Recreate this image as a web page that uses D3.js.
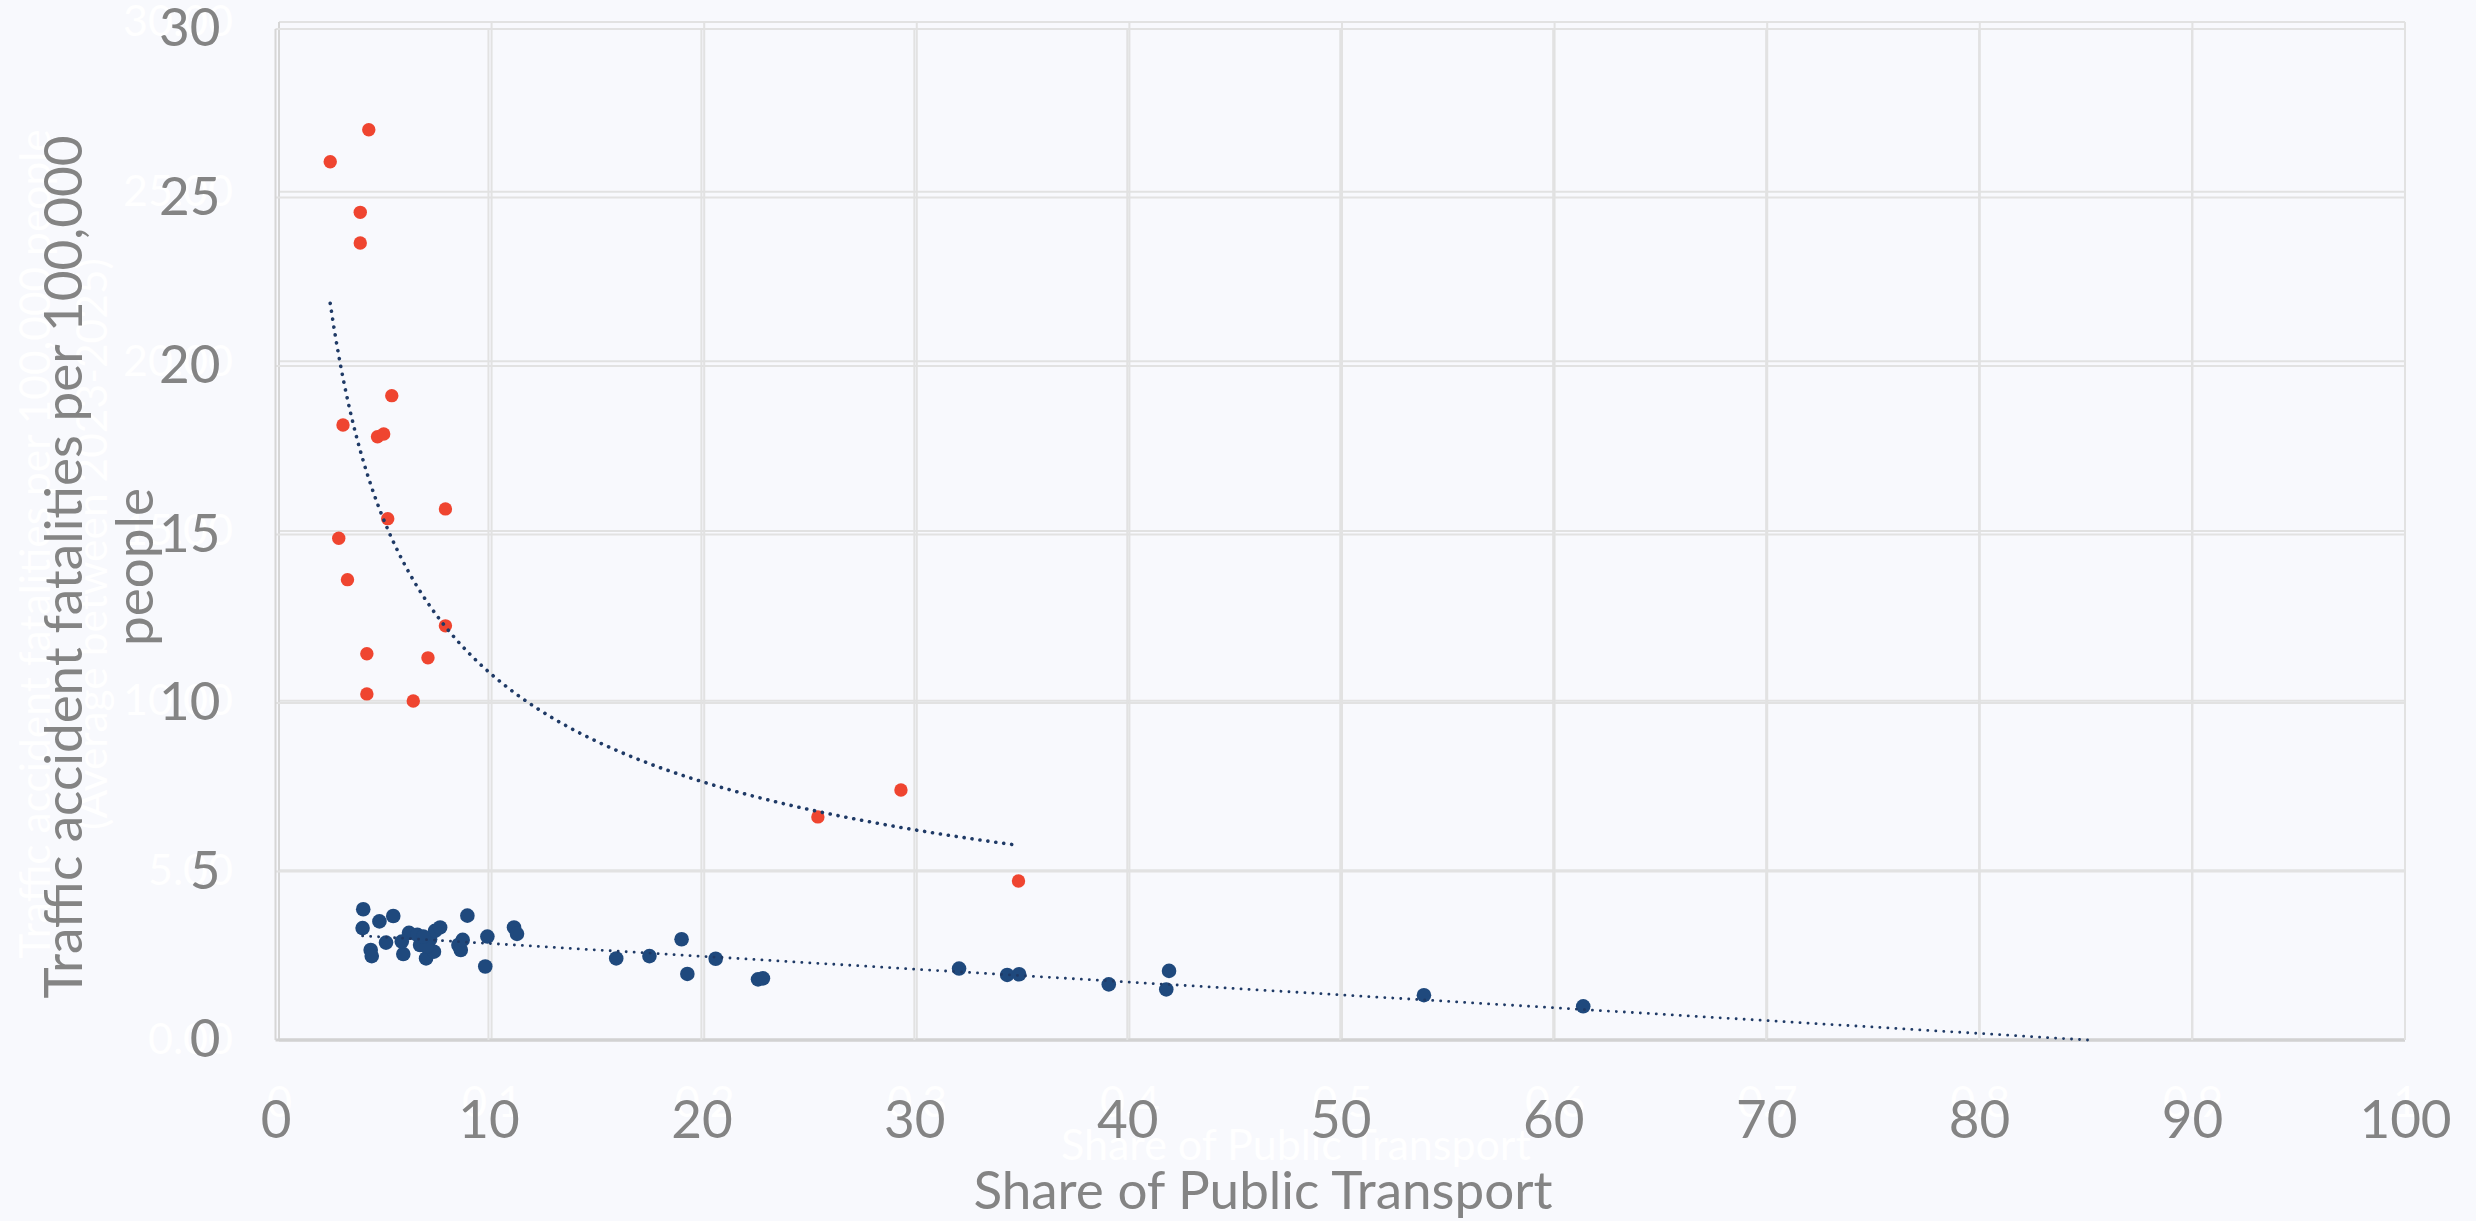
<!DOCTYPE html>
<html>
<head>
<meta charset="utf-8">
<script src="https://cdn.jsdelivr.net/npm/d3@7"></script>
<style>
  html, body { margin: 0; padding: 0; background: #f8f9fd; }
  #chart { width: 2476px; height: 1221px; }
</style>
</head>
<body>
<div id="chart"></div>
<script>
/* ================================================
   Share of public transport vs traffic fatalities
   ================================================ */

// red group (high fatality countries)
var redShare = [2.57, 4.38, 3.98, 3.98, 5.46, 3.17, 4.79, 5.08, 7.98, 5.27,
                2.97, 3.38, 7.98, 4.29, 7.16, 4.29, 6.47, 25.47, 29.37, 34.89];
var redFatal = [26.06, 27.01, 24.56, 23.65, 19.12, 18.25, 17.90, 17.98, 15.76, 15.47,
                14.89, 13.66, 12.29, 11.46, 11.34, 10.27, 10.06, 6.62, 7.42, 4.72];

// blue group (low fatality countries)
var blueShare = [4.12, 4.09, 4.88, 5.53, 4.47, 4.52, 5.19, 6.00, 6.27, 6.66,
                 5.93, 6.79, 7.07, 7.44, 7.26, 7.49, 7.73, 7.10, 6.94, 8.59,
                 8.70, 8.79, 9.01, 9.95, 9.85, 11.20, 11.34, 16.00, 17.56, 19.07,
                 19.34, 20.67, 22.66, 22.89, 32.10, 34.36, 34.92, 39.13, 41.96, 41.83,
                 53.93, 61.41];
var blueFatal = [3.88, 3.32, 3.52, 3.68, 2.67, 2.49, 2.89, 2.55, 3.18, 3.12,
                 2.92, 2.82, 2.42, 2.62, 2.99, 3.24, 3.34, 2.77, 3.07, 2.82,
                 2.67, 2.97, 3.69, 3.07, 2.18, 3.34, 3.15, 2.42, 2.49, 2.99,
                 1.96, 2.41, 1.80, 1.83, 2.12, 1.93, 1.95, 1.65, 2.05, 1.50,
                 1.33, 1.00];

// axis ticks
var xTicks = [0, 10, 20, 30, 40, 50, 60, 70, 80, 90, 100];
var yTicks = [0, 5, 10, 15, 20, 25, 30];
var ghostXTicks = [0, 0.1, 0.2, 0.3, 0.4, 0.5, 0.6, 0.7, 0.8, 0.9, 1];
var ghostYTicks = [0, 5, 10, 15, 20, 25, 30];

var xTitle = 'Share of Public Transport';
var yTitleLines = ['Traffic accident fatalities per 100,000', 'people'];
var ghostYTitleLines = ['Traffic accident fatalities per 100,000 people',
                        '(Average between 2023-2025)'];

var W = 2476, H = 1221;
var FONT = 'Lato, "Open Sans", sans-serif';
var GRAY = '#848484';
var GRID = '#e2e2e2';

var svg = d3.select('#chart').append('svg')
  .attr('width', W).attr('height', H)
  .attr('viewBox', '0 0 ' + W + ' ' + H);

svg.append('rect').attr('width', W).attr('height', H).attr('fill', '#f8f9fd');

// main scales
var x = d3.scaleLinear().domain([0, 100]).range([275.5, 2405]);
var y = d3.scaleLinear().domain([0, 30]).range([1040, 29]);
// the faded chart sitting underneath
var gx = d3.scaleLinear().domain([0, 1]).range([279, 2405]);
var gy = d3.scaleLinear().domain([0, 30]).range([1040, 22]);

function drawGrid(xs, ys, xt, yt) {
  var g = svg.append('g');
  yt.forEach(function(v) {
    g.append('line')
      .attr('x1', xs.range()[0]).attr('x2', xs.range()[1])
      .attr('y1', ys(v)).attr('y2', ys(v))
      .attr('stroke', v === 0 ? '#d2d2d2' : GRID)
      .attr('stroke-width', v === 0 ? 3 : 2);
  });
  xt.forEach(function(v, i) {
    g.append('line')
      .attr('x1', xs(v)).attr('x2', xs(v))
      .attr('y1', ys.range()[0]).attr('y2', ys.range()[1])
      .attr('stroke', i === 0 ? '#d6d6d6' : GRID)
      .attr('stroke-width', 2);
  });
}

drawGrid(gx, gy, ghostXTicks, ghostYTicks);
drawGrid(x, y, xTicks, yTicks);

// ---- ghost text (white, barely visible) ----
var gyAxis = svg.append('g')
  .attr('transform', 'translate(' + gx(0) + ',0)')
  .call(d3.axisLeft(gy).tickValues(ghostYTicks).tickSize(0).tickPadding(46)
    .tickFormat(d3.format('.2f')));
var gxAxis = svg.append('g')
  .attr('transform', 'translate(0,' + gy(0) + ')')
  .call(d3.axisBottom(gx).tickValues(ghostXTicks).tickSize(0).tickPadding(46)
    .tickFormat(function(d) { return d === 0 || d === 1 ? d : d.toFixed(1); }));
[gyAxis, gxAxis].forEach(function(a) {
  a.select('.domain').remove();
  a.selectAll('text').attr('fill', '#ffffff').attr('font-size', 43).attr('font-family', FONT);
});

svg.append('text')
  .attr('x', 1296).attr('y', 1160)
  .attr('text-anchor', 'middle')
  .attr('fill', '#ffffff').attr('font-size', 43).attr('font-family', FONT)
  .text(xTitle);

ghostYTitleLines.forEach(function(t, i) {
  svg.append('text')
    .attr('transform', 'translate(' + (50 + i * 57) + ',544) rotate(-90)')
    .attr('text-anchor', 'middle')
    .attr('fill', '#ffffff').attr('font-size', 42.5).attr('font-family', FONT)
    .text(t);
});

// ---- main axes ----
var yAxis = svg.append('g')
  .attr('transform', 'translate(' + x(0) + ',0)')
  .call(d3.axisLeft(y).tickValues(yTicks).tickSize(0).tickPadding(55));
var xAxis = svg.append('g')
  .attr('transform', 'translate(0,' + y(0) + ')')
  .call(d3.axisBottom(x).tickValues(xTicks).tickSize(0).tickPadding(60));
[yAxis, xAxis].forEach(function(a) {
  a.select('.domain').remove();
  a.selectAll('text').attr('fill', GRAY).attr('font-size', 53).attr('font-family', FONT);
});

svg.append('text')
  .attr('x', 1263).attr('y', 1209)
  .attr('text-anchor', 'middle')
  .attr('fill', GRAY).attr('font-size', 53).attr('font-family', FONT)
  .text(xTitle);

yTitleLines.forEach(function(t, i) {
  svg.append('text')
    .attr('transform', 'translate(' + (82 + i * 71) + ',567) rotate(-90)')
    .attr('text-anchor', 'middle')
    .attr('fill', GRAY).attr('font-size', 53).attr('font-family', FONT)
    .text(t);
});

// ---- points ----
var redPts = redShare.map(function(v, i) { return [v, redFatal[i]]; });
var bluePts = blueShare.map(function(v, i) { return [v, blueFatal[i]]; });

svg.append('g').selectAll('circle').data(redPts).enter().append('circle')
  .attr('cx', function(d) { return x(d[0]); })
  .attr('cy', function(d) { return y(d[1]); })
  .attr('r', 6.7)
  .attr('fill', '#ef4530');

svg.append('g').selectAll('circle').data(bluePts).enter().append('circle')
  .attr('cx', function(d) { return x(d[0]); })
  .attr('cy', function(d) { return y(d[1]); })
  .attr('r', 7.3)
  .attr('fill', '#1f497d');

// ---- trendlines ----
// power fit for red: ln y = ln a + b ln x
function powerFit(pts) {
  var lx = pts.map(function(p) { return Math.log(p[0]); });
  var ly = pts.map(function(p) { return Math.log(p[1]); });
  var mx = d3.mean(lx), my = d3.mean(ly);
  var sxy = d3.sum(lx, function(v, i) { return (v - mx) * (ly[i] - my); });
  var sxx = d3.sum(lx, function(v) { return (v - mx) * (v - mx); });
  var b = sxy / sxx;
  var a = Math.exp(my - b * mx);
  return function(v) { return a * Math.pow(v, b); };
}
function linearFit(pts) {
  var mx = d3.mean(pts, function(p) { return p[0]; });
  var my = d3.mean(pts, function(p) { return p[1]; });
  var sxy = d3.sum(pts, function(p) { return (p[0] - mx) * (p[1] - my); });
  var sxx = d3.sum(pts, function(p) { return (p[0] - mx) * (p[0] - mx); });
  var b = sxy / sxx;
  return { f: function(v) { return my + b * (v - mx); }, a: my - b * mx, b: b };
}

var line = d3.line()
  .x(function(d) { return x(d[0]); })
  .y(function(d) { return y(d[1]); });

var redFit = powerFit(redPts);
var rExt = d3.extent(redShare);
var redCurve = d3.range(0, 201).map(function(i) {
  var v = rExt[0] + (rExt[1] - rExt[0]) * i / 200;
  return [v, redFit(v)];
});

var blueFit = linearFit(bluePts);
var bStart = d3.min(blueShare);
var bEnd = -blueFit.a / blueFit.b; // clipped where it meets the x axis
var blueLine = [[bStart, blueFit.f(bStart)], [bEnd, 0]];

svg.append('path')
  .attr('d', line(redCurve))
  .attr('fill', 'none')
  .attr('stroke', '#1f3a66')
  .attr('stroke-width', 3.6)
  .attr('stroke-linecap', 'round')
  .attr('stroke-dasharray', '0.1 7.9');

svg.append('path')
  .attr('d', line(blueLine))
  .attr('fill', 'none')
  .attr('stroke', '#1f3a66')
  .attr('stroke-width', 2.8)
  .attr('stroke-linecap', 'round')
  .attr('stroke-dasharray', '0.1 7.9');
</script>
</body>
</html>
